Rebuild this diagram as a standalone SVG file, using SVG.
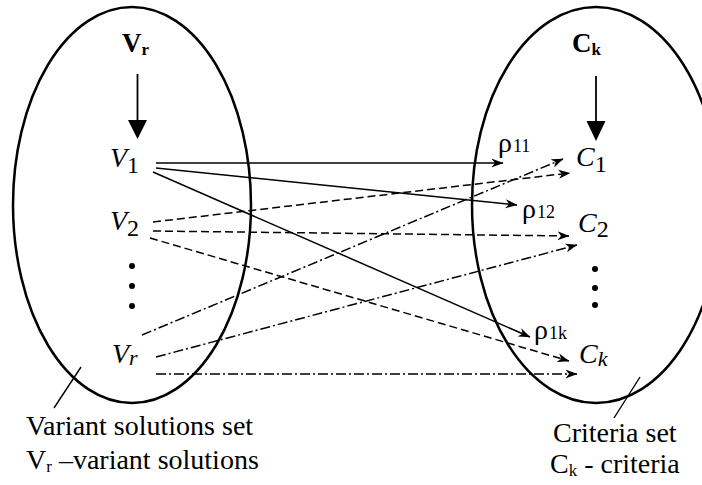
<svg xmlns="http://www.w3.org/2000/svg" width="702" height="485" viewBox="0 0 702 485">
<style>
.set{fill:none;stroke:#000;stroke-width:2.5}
.t{font-family:"Liberation Serif","Times New Roman",serif;fill:#000}
.it{font-style:italic}
.b{font-weight:bold}
.c{fill:none;stroke:#000;stroke-width:1.5}
.dash{stroke-dasharray:8 4}
.dd{stroke-dasharray:10 3 2 3}
.lead{fill:none;stroke:#000;stroke-width:1.4}
.rho{font-size:28px}
.sub{font-size:18px}
</style>
<defs>
<marker id="ah" viewBox="0 0 12 10" refX="11.5" refY="5" markerWidth="12" markerHeight="10" markerUnits="userSpaceOnUse" orient="auto">
<path d="M0,0.5 L12,5 L0,9.5 L3.5,5 Z" fill="#000"/>
</marker>
</defs>
<rect width="702" height="485" fill="#fff"/>
<g id="set-V">
<ellipse class="set" cx="132" cy="205" rx="119" ry="198"/>
<text class="t b" x="122" y="52" font-size="27">V<tspan font-size="17" dy="3">r</tspan></text>
<line x1="137.5" y1="74" x2="137.5" y2="122" stroke="#000" stroke-width="1.8"/>
<polygon points="128,120 147,120 137.5,139" fill="#000"/>
<line class="lead" x1="54" y1="408" x2="81" y2="367"/>
<text class="t" x="26" y="435" font-size="28">Variant solutions set</text>
<text class="t" x="26" y="469" font-size="28">V<tspan font-size="17" dy="3">r</tspan><tspan dy="-3"> –variant solutions</tspan></text>
</g>
<g id="node-V1"><text class="t" x="110" y="167" font-size="28"><tspan class="it">V</tspan><tspan font-size="24" dy="6">1</tspan></text></g>
<g id="node-V2"><text class="t" x="110" y="230" font-size="28"><tspan class="it">V</tspan><tspan font-size="24" dy="6">2</tspan></text></g>
<g id="dots-V"><circle cx="132" cy="266" r="3"/><circle cx="132" cy="286" r="3"/><circle cx="132" cy="306" r="3"/></g>
<g id="node-Vr"><text class="t it" x="112" y="363" font-size="28">V<tspan font-size="22" dy="2">r</tspan></text></g>
<g id="set-C">
<ellipse class="set" cx="596" cy="205" rx="124" ry="198"/>
<text class="t b" x="572" y="52" font-size="27">C<tspan font-size="17" dy="3">k</tspan></text>
<line x1="596" y1="76" x2="596" y2="123" stroke="#000" stroke-width="1.8"/>
<polygon points="586.5,121 605.5,121 596,141" fill="#000"/>
<line class="lead" x1="614" y1="418" x2="640" y2="377"/>
<text class="t" x="553" y="442" font-size="28">Criteria set</text>
<text class="t" x="550" y="473" font-size="28">C<tspan font-size="17" dy="3">k</tspan><tspan dy="-3"> - criteria</tspan></text>
</g>
<g id="node-C1"><text class="t" x="576" y="166" font-size="28"><tspan class="it">C</tspan><tspan font-size="24" dy="6">1</tspan></text></g>
<g id="node-C2"><text class="t" x="578" y="232" font-size="28"><tspan class="it">C</tspan><tspan font-size="24" dy="5">2</tspan></text></g>
<g id="dots-C"><circle cx="595" cy="269" r="3"/><circle cx="595" cy="288" r="3"/><circle cx="595" cy="305" r="3"/></g>
<g id="node-Ck"><text class="t it" x="579" y="363" font-size="28">C<tspan font-size="22" dy="3">k</tspan></text></g>
<g id="labels">
<text class="t rho" x="498" y="152">ρ<tspan class="sub" dx="1">11</tspan></text>
<text class="t rho" x="522" y="218">ρ<tspan class="sub" dx="1">12</tspan></text>
<text class="t rho" x="534" y="339">ρ<tspan class="sub" dx="1">1k</tspan></text>
</g>
<g id="connectors">
<line class="c" x1="156" y1="163" x2="503" y2="163" marker-end="url(#ah)"/>
<line class="c" x1="156" y1="168" x2="517" y2="205" marker-end="url(#ah)"/>
<line class="c" x1="153" y1="172" x2="530" y2="337" marker-end="url(#ah)"/>
<line class="c dash" x1="153" y1="222" x2="570" y2="173" marker-end="url(#ah)"/>
<line class="c dash" x1="153" y1="231" x2="569" y2="236" marker-end="url(#ah)"/>
<line class="c dash" x1="150" y1="238" x2="569" y2="361" marker-end="url(#ah)"/>
<line class="c dd" x1="142" y1="335" x2="563" y2="159" marker-end="url(#ah)"/>
<line class="c dd" x1="156" y1="357" x2="577" y2="245" marker-end="url(#ah)"/>
<line class="c dd" x1="156" y1="374" x2="577" y2="374" marker-end="url(#ah)"/>
</g>
</svg>
